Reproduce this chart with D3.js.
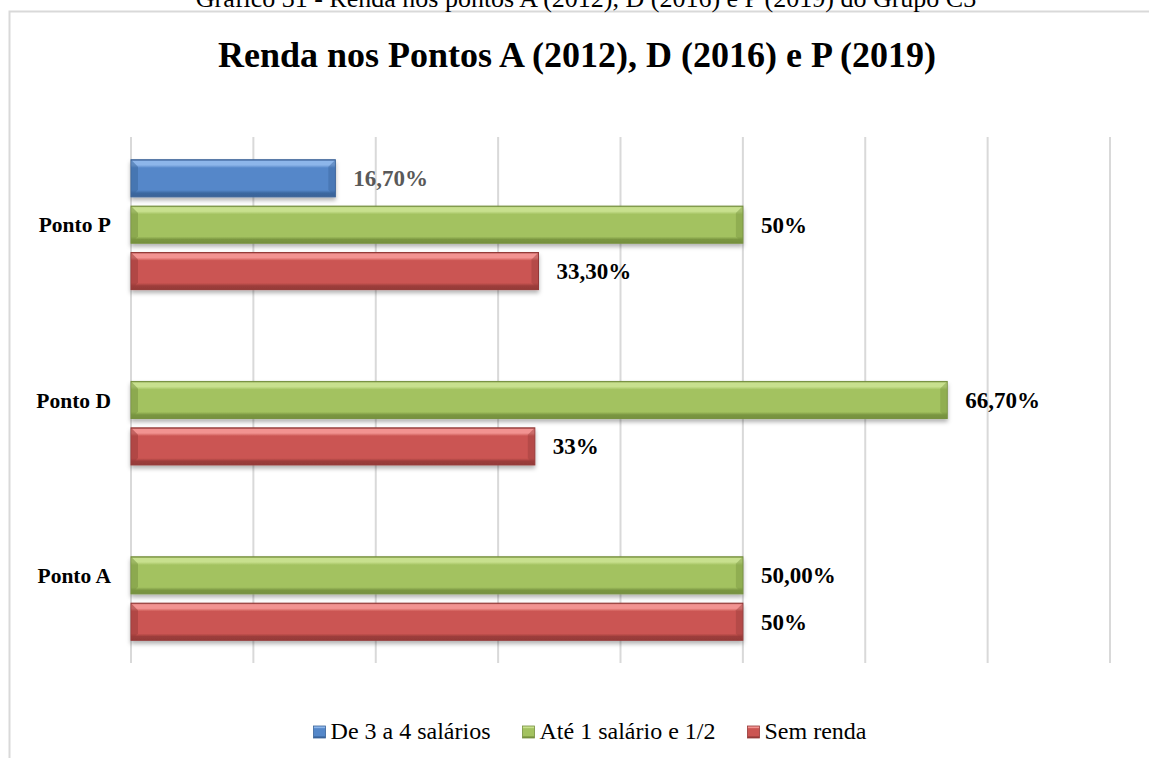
<!DOCTYPE html>
<html><head><meta charset="utf-8">
<script src="https://cdn.jsdelivr.net/npm/d3@7"></script>
<style>
html,body{margin:0;padding:0;background:#fff;}
svg{display:block;}
text{font-family:"Liberation Serif","Times New Roman",serif;}
</style></head>
<body>
<svg id="c" width="1149" height="758"></svg>
<script>
// ---- data ----
const categories = ["Ponto P", "Ponto D", "Ponto A"];
const seriesNames = ["De 3 a 4 salários", "Até 1 salário e 1/2", "Sem renda"];
const seriesDe3a4 = [16.7, null, null];
const seriesAte1 = [50, 66.7, 50];
const seriesSemRenda = [33.3, 33, 50];
const labelsDe3a4 = ["16,70%", "", ""];
const labelsAte1 = ["50%", "66,70%", "50,00%"];
const labelsSemRenda = ["33,30%", "33%", "50%"];
const xTicks = [0, 10, 20, 30, 40, 50, 60, 70, 80];
const chartTitle = "Renda nos Pontos A (2012), D (2016) e P (2019)";
const caption = "Gráfico 31 - Renda nos pontos A (2012), D (2016) e P (2019) do Grupo C3";

const seriesValues = [seriesDe3a4, seriesAte1, seriesSemRenda];
const seriesLabels = [labelsDe3a4, labelsAte1, labelsSemRenda];

// ---- styles ----
const palette = [
  {light:"#8db6ea", base:"#5487c9", dark:"#3b679f", edge:"#3a6398", label:"#595959"},
  {light:"#c8e08e", base:"#a3c260", dark:"#7a9641", edge:"#76903f", label:"#000"},
  {light:"#f29391", base:"#cb5552", dark:"#9c3d3b", edge:"#943a38", label:"#000"}
];

const svg = d3.select("#c");
const defs = svg.append("defs");
palette.forEach((p,i)=>{
  const g = defs.append("linearGradient").attr("id","g"+i).attr("x1",0).attr("y1",0).attr("x2",0).attr("y2",1);
  [[0,p.edge],[0.04,p.light],[0.14,p.light],[0.22,p.base],[0.82,p.base],[0.9,p.dark],[1,p.edge]]
    .forEach(s=>g.append("stop").attr("offset",s[0]).attr("stop-color",s[1]));
});
const f = defs.append("filter").attr("id","sh").attr("x","-5%").attr("y","-20%").attr("width","110%").attr("height","160%");
f.append("feDropShadow").attr("dx",0).attr("dy",3).attr("stdDeviation",2).attr("flood-color","#000").attr("flood-opacity",0.3);

// frame
svg.append("path").attr("d","M9.5,758 L9.5,11.5 L1149,11.5").attr("fill","none").attr("stroke","#d9d9d9").attr("stroke-width",2);

// caption (cut at the top edge as in the source page)
svg.append("text").attr("x",586).attr("y",7).attr("text-anchor","middle")
  .style("font-size","26px").attr("fill","#000").text(caption);

// title
svg.append("text").attr("x",577).attr("y",67).attr("text-anchor","middle")
  .style("font-size","36px").style("font-weight","bold").attr("fill","#000").text(chartTitle);

// scales
const x = d3.scaleLinear().domain([0,80]).range([131,1110]);
const y = d3.scaleBand().domain(categories).range([137,663]).paddingInner(0).paddingOuter(0);
const yInner = d3.scaleBand().domain(seriesNames).range([0,y.bandwidth()]).paddingInner(0.2).paddingOuter(0.49);

// grid
svg.append("g").selectAll("line").data(xTicks).join("line")
  .attr("x1",d=>x(d)).attr("x2",d=>x(d)).attr("y1",137).attr("y2",663)
  .attr("stroke","#d9d9d9").attr("stroke-width",2);

// bars
const rows = [];
categories.forEach((c,ci)=>seriesNames.forEach((s,si)=>{
  const v = seriesValues[si][ci];
  if(v!==null && v!==undefined) rows.push({c,s,si,v,label:seriesLabels[si][ci]});
}));
const bars = svg.append("g");
rows.forEach(r=>{
  const y0 = y(r.c)+yInner(r.s), h = yInner.bandwidth(), x0 = x(0), x1 = x(r.v);
  const p = palette[r.si];
  bars.append("rect").attr("x",x0).attr("y",y0).attr("width",x1-x0).attr("height",h)
    .attr("fill","url(#g"+r.si+")").attr("stroke",p.edge).attr("stroke-width",1).attr("filter","url(#sh)");
  const b = Math.min(7,h*0.2);
  bars.append("path").attr("d",`M${x0+0.5},${y0+0.5} L${x0+b},${y0+b} L${x0+b},${y0+h-b} L${x0+0.5},${y0+h-0.5} Z`)
    .attr("fill",p.dark).attr("opacity",0.55);
  bars.append("path").attr("d",`M${x1-0.5},${y0+0.5} L${x1-b},${y0+b} L${x1-b},${y0+h-b} L${x1-0.5},${y0+h-0.5} Z`)
    .attr("fill",p.dark).attr("opacity",0.45);
  svg.append("text").attr("x",x1+18).attr("y",y0+h/2).attr("dy","0.35em")
    .style("font-size","23px").style("font-weight","bold").attr("fill",p.label).text(r.label);
});

// category labels
svg.append("g").selectAll("text").data(categories).join("text")
  .attr("x",111).attr("y",d=>y(d)+y.bandwidth()/2).attr("dy","0.35em").attr("text-anchor","end")
  .style("font-size","21.5px").style("font-weight","bold").attr("fill","#000").text(d=>d);

// legend
const lg = svg.append("g");
const items = seriesNames.map((s,i)=>{
  const g = lg.append("g");
  g.append("rect").attr("width",12).attr("height",12).attr("y",-13)
    .attr("fill","url(#g"+i+")").attr("stroke",palette[i].edge).attr("stroke-width",0.8);
  const t = g.append("text").attr("x",17).attr("y",0).style("font-size","24px").attr("fill","#000").text(s);
  return {g, w:17+t.node().getComputedTextLength()};
});
const gap = 32;
const total = d3.sum(items,d=>d.w)+gap*(items.length-1);
let cx = 590-total/2;
items.forEach(it=>{ it.g.attr("transform",`translate(${cx},739)`); cx += it.w+gap; });
</script>
</body></html>
